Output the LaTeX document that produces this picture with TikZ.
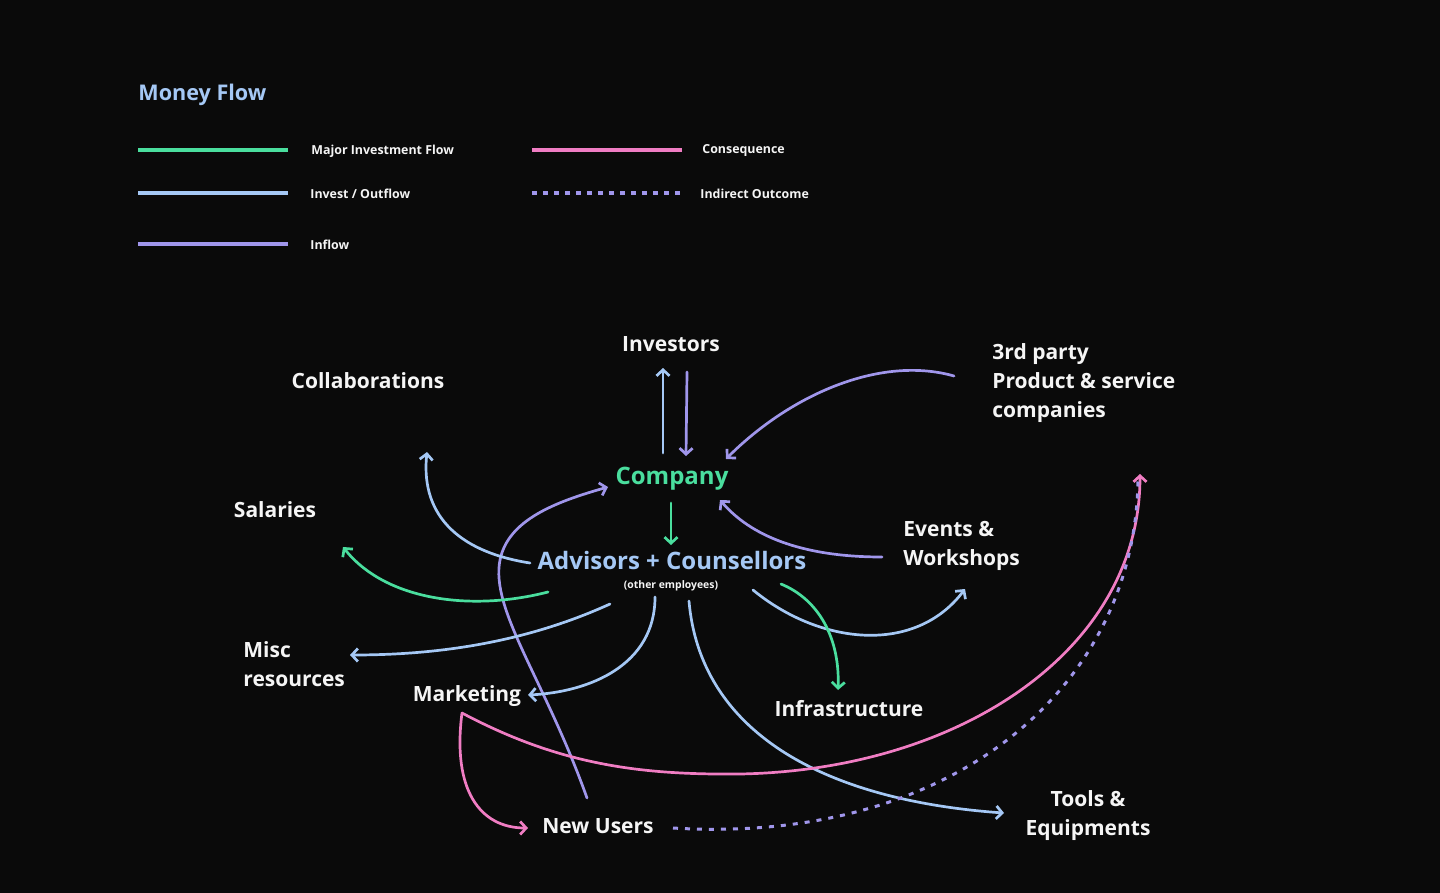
\documentclass[tikz,border=0pt]{standalone}
\usepackage{fontspec}
\setmainfont{Open Sans}
\usetikzlibrary{arrows.meta}
\definecolor{bgdark}{RGB}{10,10,10}
\definecolor{txtwhite}{RGB}{245,245,245}
\definecolor{mfgreen}{RGB}{74,222,158}
\definecolor{mfblue}{RGB}{165,200,245}
\definecolor{mfpurple}{RGB}{160,150,235}
\definecolor{mfpink}{RGB}{240,125,195}
\tikzset{
  every node/.style={font=\bfseries\fontsize{10.5}{14.5}\selectfont, text=txtwhite, inner sep=0pt},
  legtext/.style={font=\bfseries\fontsize{6.2}{7}\selectfont, anchor=west},
  barb/.style={-{Straight Barb[length=3pt,width=6.5pt]}, line width=1.35pt, line cap=round},
  major/.style={barb, mfgreen},
  outflow/.style={barb, mfblue},
  inflow/.style={barb, mfpurple},
  conseq/.style={barb, mfpink},
  indirect/.style={line width=1.5pt, mfpurple, dash pattern=on 2.5pt off 3.5pt},
}

\begin{document}
\begin{tikzpicture}[x=0.5pt, y=-0.5pt]
  \fill[bgdark] (0,0) rectangle (1440,893);
  \useasboundingbox (0,0) rectangle (1440,893);

  % legend
  \node[anchor=west, text=mfblue, font=\bfseries\fontsize{10.8}{13}\selectfont] (title) at (138,95) {Money Flow};
  \draw[line width=1.6pt, mfgreen] (138,150) -- (288,150);
  \node[legtext] (lmajor) at (311,151) {Major Investment Flow};
  \draw[line width=1.6pt, mfblue] (138,193) -- (288,193);
  \node[legtext] (lout) at (310,194) {Invest / Outflow};
  \draw[line width=1.6pt, mfpurple] (138,244) -- (288,244);
  \node[legtext] (lin) at (310,245) {Inflow};
  \draw[line width=1.6pt, mfpink] (532,150) -- (682,150);
  \node[legtext] (lcons) at (702,151) {Consequence};
  \draw[line width=1.6pt, mfpurple, dash pattern=on 2.5pt off 3pt] (532,193) -- (682,193);
  \node[legtext] (lind) at (700,194) {Indirect Outcome};

  % nodes
  \node (inv) at (671,344) {Investors};
  \node (col) at (368,381) {Collaborations};
  \node[anchor=west, align=left] (third) at (992,383) {3rd party\\Product \& service\\companies};
  \node[text=mfgreen, font=\bfseries\fontsize{12}{14}\selectfont] (comp) at (672,479) {Company};
  \node (sal) at (275,510) {Salaries};
  \node[text=mfblue, font=\bfseries\fontsize{12}{14}\selectfont] (adv) at (672,560) {Advisors + Counsellors};
  \node[font=\bfseries\fontsize{5.2}{6}\selectfont] (oth) at (671,586) {(other employees)};
  \node[anchor=west, align=left] (evt) at (903,546) {Events \&\\Workshops};
  \node[anchor=west, align=left] (misc) at (243,664) {Misc\\resources};
  \node (mkt) at (467,696) {Marketing};
  \node (infra) at (849,709) {Infrastructure};
  \node (nu) at (598,826) {New Users};
  \node[align=center] (tools) at (1088,816) {Tools \&\\Equipments};

  % company and investors
  \draw[outflow] ([shift={(-9,-26)}]comp.center) -- ([shift={(-8,24)}]inv.center);
  \draw[inflow] ([shift={(16,28)}]inv.center) -- ([shift={(14,-23)}]comp.center);
  \draw[inflow] ([shift={(-38,-7)}]third.west) .. controls (880,355) and (790,395) .. ([shift={(54,-20)}]comp.center);
  \draw[major] ([shift={(-1,24)}]comp.center) -- ([shift={(-1,-15)}]adv.center);
  \draw[inflow] ([shift={(-21,11)}]evt.west) .. controls (800,557) and (750,535) .. ([shift={(48,21)}]comp.center);
  \draw[inflow] ([shift={(-11,-28)}]nu.center) .. controls (545,680) and (490,610) .. (500,560)
    .. controls (508,520) and (555,502) .. ([shift={(-64,8)}]comp.center);

  % spending from advisors
  \draw[outflow] ([shift={(-142,3)}]adv.center) .. controls (465,553) and (420,520) .. ([shift={(59,71)}]col.center);
  \draw[major] ([shift={(-124,32)}]adv.center) .. controls (470,612) and (385,600) .. ([shift={(68,37)}]sal.center);
  \draw[outflow] ([shift={(-62,44)}]adv.center) .. controls (520,645) and (430,655) .. ([shift={(107,-9)}]misc.west);
  \draw[outflow] ([shift={(-17,37)}]adv.center) .. controls (655,665) and (590,692) .. ([shift={(61,-1)}]mkt.center);
  \draw[outflow] ([shift={(81,30)}]adv.center) .. controls (820,645) and (915,655) .. ([shift={(62,43)}]evt.west);
  \draw[major] ([shift={(109,24)}]adv.center) .. controls (820,600) and (840,640) .. ([shift={(-11,-19)}]infra.center);
  \draw[outflow] ([shift={(17,41)}]adv.center) .. controls (700,730) and (820,800) .. ([shift={(-84,-3)}]tools.center);

  % consequences
  \draw[conseq] ([shift={(-5,17)}]mkt.center) .. controls (560,765) and (640,775) .. (740,774)
    .. controls (960,770) and (1140,650) .. ([shift={(148,91)}]third.west);
  \draw[conseq] ([shift={(-5,17)}]mkt.center) .. controls (452,790) and (480,828) .. ([shift={(-70,2)}]nu.center);
  \draw[indirect] ([shift={(75,2)}]nu.center) .. controls (950,845) and (1135,690) .. ([shift={(146,97)}]third.west);
\end{tikzpicture}
\end{document}
